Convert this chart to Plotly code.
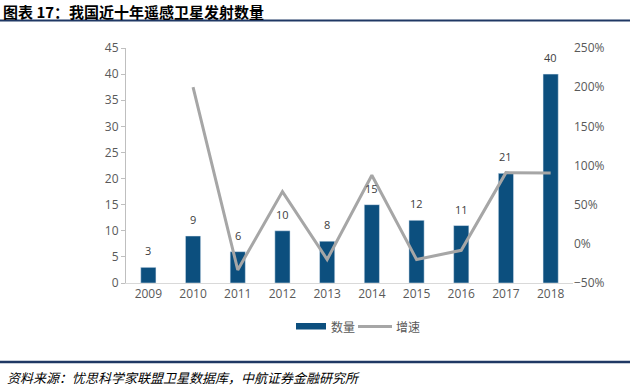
import plotly.graph_objects as go

years = ["2009", "2010", "2011", "2012", "2013", "2014", "2015", "2016", "2017", "2018"]
counts = [3, 9, 6, 10, 8, 15, 12, 11, 21, 40]
growth = [None, 2.0, -0.333, 0.667, -0.2, 0.875, -0.2, -0.083, 0.909, 0.905]

bar_color = "#0C4F7E"
line_color = "#A6A6A6"
font_cjk = "Noto Sans CJK SC"
tick_font = dict(family="Open Sans, Noto Sans CJK SC", size=12, color="#595959")

W, H = 630, 388
L, R, T, B = 126, 57, 48, 105
pw, ph = W - L - R, H - T - B


def px_x(x):
    return (x - L) / pw


def px_y(y):
    return (H - B - y) / ph


fig = go.Figure()
fig.add_trace(go.Bar(
    x=years, y=counts, name="数量", marker_color=bar_color, yaxis="y",
    showlegend=False,
))
fig.add_trace(go.Scatter(
    x=years, y=growth, name="增速", mode="lines",
    line=dict(color=line_color, width=3), yaxis="y2", showlegend=False,
))

# value labels above bars (category index positions)
for i, v in enumerate(counts):
    fig.add_annotation(
        x=i, y=v, xref="x", yref="y", text=str(v), showarrow=False,
        yanchor="bottom", yshift=7,
        font=dict(family="Open Sans", size=11, color="#404040"),
    )

fig.update_layout(
    width=W, height=H,
    margin=dict(l=L, r=R, t=T, b=B),
    plot_bgcolor="white", paper_bgcolor="white",
    bargap=0.66,
    showlegend=False,
    xaxis=dict(
        type="category", showgrid=False, showline=True, linecolor="#D9D9D9", linewidth=1,
        ticks="", tickfont=tick_font, range=[-0.5, 9.5],
    ),
    yaxis=dict(
        range=[0, 45], dtick=5, showgrid=False, showline=True, linecolor="#BFBFBF",
        ticks="outside", ticklen=4, tickcolor="#BFBFBF", tickfont=tick_font, zeroline=False,
    ),
    yaxis2=dict(
        overlaying="y", side="right", range=[-0.5, 2.5], dtick=0.5, tickformat=".0%",
        showgrid=False, showline=False, ticks="", tickfont=tick_font, zeroline=False,
    ),
    font=dict(family=font_cjk),
)

# title and footer
fig.add_annotation(
    text="<b>图表 17：我国近十年遥感卫星发射数量</b>", xref="paper", yref="paper",
    x=px_x(1), y=px_y(11), xanchor="left", yanchor="middle",
    showarrow=False, font=dict(family=font_cjk, size=15, color="#000000"),
)
fig.add_annotation(
    text="<i>资料来源：忧思科学家联盟卫星数据库，中航证券金融研究所</i>", xref="paper", yref="paper",
    x=px_x(5), y=px_y(377), xanchor="left", yanchor="middle",
    showarrow=False, font=dict(family=font_cjk, size=13, color="#000000"),
)
fig.add_shape(type="line", xref="paper", yref="paper",
              x0=px_x(0), x1=px_x(W), y0=px_y(20.5), y1=px_y(20.5),
              line=dict(color="#1F3864", width=2))
fig.add_shape(type="line", xref="paper", yref="paper",
              x0=px_x(0), x1=px_x(W), y0=px_y(362), y1=px_y(362),
              line=dict(color="#1F3864", width=2.5))

# legend (drawn manually to match wide bar swatch)
fig.add_shape(type="rect", xref="paper", yref="paper",
              x0=px_x(296), x1=px_x(326), y0=px_y(323), y1=px_y(329.5),
              fillcolor=bar_color, line=dict(width=0))
fig.add_annotation(
    text="数量", xref="paper", yref="paper", x=px_x(329), y=px_y(326.5),
    xanchor="left", yanchor="middle", showarrow=False,
    font=dict(family=font_cjk, size=12, color="#595959"),
)
fig.add_shape(type="line", xref="paper", yref="paper",
              x0=px_x(358), x1=px_x(392), y0=px_y(326.5), y1=px_y(326.5),
              line=dict(color=line_color, width=3))
fig.add_annotation(
    text="增速", xref="paper", yref="paper", x=px_x(394), y=px_y(326.5),
    xanchor="left", yanchor="middle", showarrow=False,
    font=dict(family=font_cjk, size=12, color="#595959"),
)

fig.write_html(
    "out.html",
    config={"displayModeBar": False},
    post_script="document.body.style.margin='0';document.body.style.padding='0';",
)
